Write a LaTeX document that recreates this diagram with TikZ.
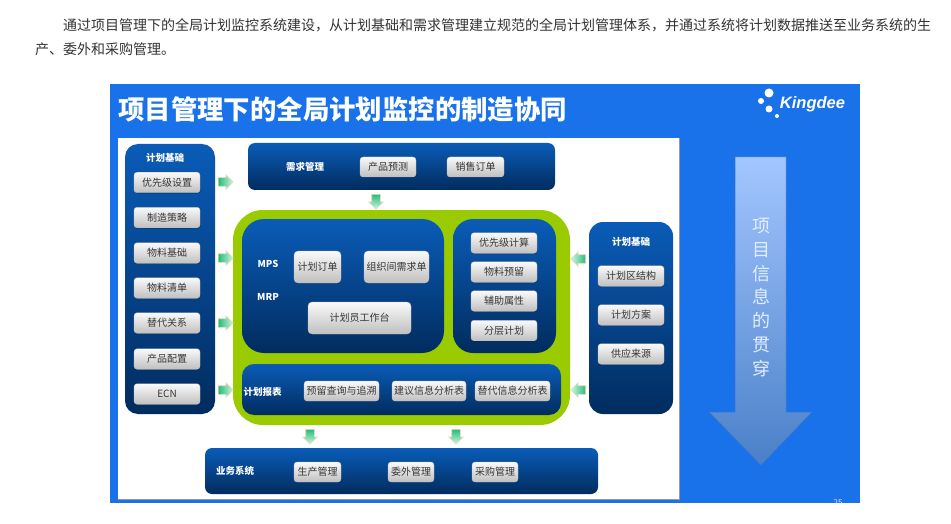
\documentclass[tikz,border=0pt]{standalone}
\usepackage{fontspec}
\setmainfont{Noto Sans CJK SC}
\newfontfamily\latinbold{Liberation Sans}
\usetikzlibrary{shapes.arrows,shadows}
\definecolor{slideblue}{HTML}{1A72EA}
\definecolor{paneltop}{HTML}{0A5CB8}
\definecolor{panelmid}{HTML}{014A98}
\definecolor{panelbot}{HTML}{012C5E}
\definecolor{limegreen}{HTML}{9ACB00}
\definecolor{btntext}{HTML}{363636}
\definecolor{peach}{HTML}{F2D9BC}
\definecolor{arrowgreen}{HTML}{25BB78}
\definecolor{arrowlight}{HTML}{D2F7E6}
\definecolor{bigtop}{HTML}{A3C6FF}
\definecolor{bigbot}{HTML}{4A80C8}
\definecolor{bigedge}{HTML}{3F78C4}
\tikzset{
  x=1pt,y=-1pt,
  panel/.style={rectangle,inner sep=0pt,top color=paneltop,middle color=panelmid,bottom color=panelbot,draw=none},
  btn/.style={rectangle,rounded corners=3pt,inner sep=0pt,top color=white!98!black,bottom color=black!25,
    draw=white!75!black,line width=.3pt,text=btntext,font=\fontsize{10}{10}\selectfont,
    general shadow={shadow xshift=.6pt,shadow yshift=-.9pt,fill=panelbot,opacity=.55}},
  lbtn/.style={btn,minimum width=66pt,minimum height=20.5pt},
  heading/.style={text=white,font=\bfseries\fontsize{9.5}{9.5}\selectfont,inner sep=0pt},
  blockarrow/.style={single arrow,anchor=tail,minimum width=14pt,minimum height=15pt,single arrow head extend=3pt,
    single arrow head indent=0pt,inner sep=0pt,draw=peach,line width=.6pt},
  rarrow/.style={blockarrow,left color=arrowgreen,right color=arrowlight},
  larrow/.style={blockarrow,shape border rotate=180,right color=arrowgreen,left color=arrowlight},
  darrow/.style={blockarrow,shape border rotate=270,top color=arrowgreen,bottom color=arrowlight},
}
\newcommand{\shaftspace}{\phantom{\rule{8pt}{8pt}}}
\begin{document}
\begin{tikzpicture}
\useasboundingbox (0,0) rectangle (951,524);
\fill[white] (0,0) rectangle (951,524);
% paragraph above the slide
\node[anchor=west,inner sep=0pt,text=black!80,font=\fontsize{14}{14}\selectfont] (para1) at (63,25) {通过项目管理下的全局计划监控系统建设，从计划基础和需求管理建立规范的全局计划管理体系，并通过系统将计划数据推送至业务系统的生};
\node[anchor=west,inner sep=0pt,text=black!80,font=\fontsize{14}{14}\selectfont] (para2) at (35,49) {产、委外和采购管理。};
% slide
\fill[slideblue] (110,84) rectangle (860,503);
\begin{scope}
\clip (110,84) rectangle (860,503);
\node[text=white!85!slideblue,inner sep=0pt,font=\fontsize{8}{8}\selectfont] (pagenum) at (838,503) {25};
\end{scope}
\node[anchor=west,inner sep=0pt,text=white,font=\bfseries\fontsize{26.4}{26.4}\selectfont] (title) at (118,109) {项目管理下的全局计划监控的制造协同};
% logo
\fill[white] (769,93) circle (4.5) (761,101) circle (3) (769,109) circle (3.5) (777,116) circle (2);
\node[text=white,inner sep=0pt,font=\latinbold\bfseries\itshape\fontsize{16.5}{16.5}\selectfont] (kingdee) at (812.5,104) {Kingdee};
% white panel
\fill[white] (118,138) rectangle (679,499);
\draw[draw=black!40,line width=.7pt] (679,138) -- (679,499) -- (118,499);
% left panel
\node[panel,rounded corners=13pt,minimum width=90pt,minimum height=270pt] (left) at (170,279) {};
\node[heading] (lefttitle) at (165,158) {计划基础};
\node[lbtn] (l1) at (167,182.5) {优先级设置};
\node[lbtn] (l2) at (167,217.5) {制造策略};
\node[lbtn] (l3) at (167,253) {物料基础};
\node[lbtn] (l4) at (167,288) {物料清单};
\node[lbtn] (l5) at (167,323) {替代关系};
\node[lbtn] (l6) at (167,359) {产品配置};
\node[lbtn] (l7) at (167,394) {ECN};
% top panel
\node[panel,rounded corners=7pt,minimum width=307pt,minimum height=47pt] (demand) at (401.5,166.5) {};
\node[heading] (demandtitle) at (305,166.5) {需求管理};
\node[btn,minimum width=56pt,minimum height=20pt] (d1) at (388,167) {产品预测};
\node[btn,minimum width=57pt,minimum height=20pt] (d2) at (475.5,167) {销售订单};
% green frame
\node[rectangle,rounded corners=30pt,fill=limegreen,minimum width=337pt,minimum height=215pt,inner sep=0pt] (green) at (401.5,317.5) {};
\node[panel,rounded corners=22pt,minimum width=202pt,minimum height=134pt] (mrp) at (343,286) {};
\node[panel,rounded corners=20pt,minimum width=103pt,minimum height=134pt] (calc) at (504.5,286) {};
\node[panel,rounded corners=12pt,minimum width=319pt,minimum height=51pt] (report) at (401.5,389.5) {};
\node[heading] (mps) at (268,264) {MPS};
\node[heading] (mrptext) at (268,297) {MRP};
\node[btn,rounded corners=4pt,minimum width=47pt,minimum height=32pt] (m1) at (317.5,267) {计划订单};
\node[btn,rounded corners=4pt,minimum width=65pt,minimum height=32pt] (m2) at (396.5,267) {组织间需求单};
\node[btn,rounded corners=4pt,minimum width=103pt,minimum height=32pt] (m3) at (359.5,318) {计划员工作台};
\node[lbtn] (c1) at (504,243) {优先级计算};
\node[lbtn] (c2) at (504,272) {物料预留};
\node[lbtn] (c3) at (504,301) {辅助属性};
\node[lbtn] (c4) at (504,330.5) {分层计划};
\node[heading] (reporttitle) at (262.5,392) {计划报表};
\node[btn,minimum width=75pt,minimum height=20pt] (r1) at (341.5,391) {预留查询与追溯};
\node[btn,minimum width=74pt,minimum height=20pt] (r2) at (429,391) {建议信息分析表};
\node[btn,minimum width=75pt,minimum height=20pt] (r3) at (512.5,391) {替代信息分析表};
% right panel
\node[panel,rounded corners=14pt,minimum width=84pt,minimum height=192pt] (right) at (631,318) {};
\node[heading] (righttitle) at (631,242) {计划基础};
\node[lbtn] (g1) at (631,276) {计划区结构};
\node[lbtn] (g2) at (631,315) {计划方案};
\node[lbtn] (g3) at (631,354) {供应来源};
% bottom panel
\node[panel,rounded corners=7pt,minimum width=393pt,minimum height=46pt] (biz) at (401.5,471) {};
\node[heading] (biztitle) at (235,471) {业务系统};
\node[btn,minimum width=47pt,minimum height=20pt] (b1) at (317.5,472) {生产管理};
\node[btn,minimum width=46pt,minimum height=20pt] (b2) at (411,472) {委外管理};
\node[btn,minimum width=46pt,minimum height=20pt] (b3) at (495,472) {采购管理};
% small block arrows
\node[rarrow] (ar1) at (218,182) {\shaftspace};
\node[rarrow] (ar2) at (218,258) {\shaftspace};
\node[rarrow] (ar3) at (218,323) {\shaftspace};
\node[rarrow] (ar4) at (218,390) {\shaftspace};
\node[larrow] (al1) at (586,259) {\shaftspace};
\node[larrow] (al2) at (586,390) {\shaftspace};
\node[darrow] (ad1) at (376,194) {\shaftspace};
\node[darrow] (ad2) at (310,429) {\shaftspace};
\node[darrow] (ad3) at (456,429) {\shaftspace};
% large arrow
\shade[top color=bigtop,bottom color=bigbot,draw=bigedge,line width=.5pt]
  (735,157) -- (786,157) -- (786,412) -- (812,412) -- (761,465) -- (709,412) -- (735,412) -- cycle;
\node[text=white!88!slideblue,inner sep=0pt,align=center,font=\fontsize{18}{23.7}\selectfont] (through) at (761,297.5) {项\\目\\信\\息\\的\\贯\\穿};
\end{tikzpicture}
\end{document}
